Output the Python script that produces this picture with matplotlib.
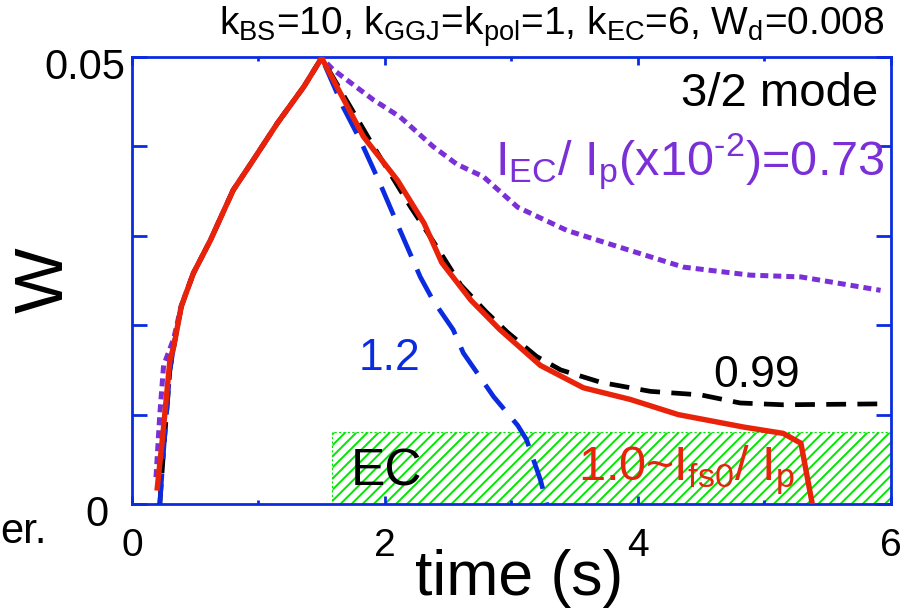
import numpy as np
import matplotlib
matplotlib.use("Agg")
import matplotlib.pyplot as plt
from matplotlib.transforms import offset_copy

plt.rcParams['font.family'] = ['Liberation Sans', 'DejaVu Sans']
plt.rcParams['mathtext.fontset'] = 'custom'
plt.rcParams['mathtext.rm'] = 'Liberation Sans'
plt.rcParams['mathtext.it'] = 'Liberation Sans:italic'
plt.rcParams['hatch.color'] = '#00e600'
plt.rcParams['hatch.linewidth'] = 1.4

# Island width W vs time for the 3/2 mode
t_ec073 = [0.19, 0.22, 0.25, 0.33, 0.39, 0.485, 0.62, 0.80, 0.96, 1.15, 1.36, 1.50,
           1.59, 1.91, 2.12, 2.38, 2.57, 2.78, 3.05, 3.44, 3.84, 4.36, 4.89, 5.29, 5.92]
w_ec073 = [0.0030, 0.0100, 0.0155, 0.0185, 0.0222, 0.0258, 0.0295, 0.0351, 0.0385,
           0.0426, 0.0467, 0.0499, 0.0486, 0.0452, 0.0433, 0.0400, 0.0380, 0.0366,
           0.0332, 0.0306, 0.0288, 0.0265, 0.0256, 0.0254, 0.0239]

t_ec099 = [0.22, 0.25, 0.30, 0.33, 0.39, 0.485, 0.62, 0.80, 0.96, 1.15, 1.36, 1.50,
           1.91, 2.20, 2.40, 2.60, 2.80, 2.97, 3.20, 3.39, 3.71, 4.10, 4.50, 4.81,
           5.15, 5.92]
w_ec099 = [0.0, 0.0060, 0.0150, 0.0176, 0.0221, 0.0258, 0.0295, 0.0351, 0.0385,
           0.0426, 0.0467, 0.0499, 0.0400, 0.0333, 0.0290, 0.0245, 0.0215, 0.0192,
           0.0165, 0.0150, 0.0136, 0.0126, 0.0122, 0.0113, 0.0111, 0.0112]

t_ec12 = [0.22, 0.25, 0.30, 0.33, 0.39, 0.485, 0.62, 0.80, 0.96, 1.15, 1.36, 1.50,
          1.67, 1.805, 1.96, 2.12, 2.28, 2.38, 2.54, 2.62, 2.86, 3.05, 3.12, 3.23, 3.28]
w_ec12 = [0.0, 0.0060, 0.0150, 0.0176, 0.0221, 0.0258, 0.0295, 0.0351, 0.0385,
          0.0426, 0.0467, 0.0499, 0.0444, 0.0407, 0.0359, 0.0306, 0.0254, 0.0228,
          0.0195, 0.0169, 0.0120, 0.0088, 0.0072, 0.0027, 0.0]

t_ec10 = [0.20, 0.245, 0.30, 0.33, 0.39, 0.485, 0.62, 0.80, 0.96, 1.15, 1.36, 1.50,
          1.83, 2.10, 2.31, 2.45, 2.68, 2.91, 3.23, 3.57, 3.94, 4.32, 4.84, 5.15,
          5.29, 5.38]
w_ec10 = [0.0018, 0.0079, 0.0161, 0.0176, 0.0221, 0.0258, 0.0295, 0.0351, 0.0385,
          0.0426, 0.0467, 0.0499, 0.0411, 0.0362, 0.0314, 0.0270, 0.0228, 0.0195,
          0.0155, 0.0130, 0.0117, 0.0100, 0.0086, 0.0079, 0.0068, 0.0]

# EC window and threshold width
ec_on, ec_off = 1.58, 6.0
w_d = 0.008

blue = '#0b2be0'
purple = '#7b2fd6'
red = '#e8230a'

fig = plt.figure(figsize=(9.14, 6.09), dpi=100)
ax = fig.add_axes([0.1444, 0.1724, 0.8301, 0.734])

ax.fill_between([ec_on, ec_off], 0, w_d, facecolor='white', edgecolor='#00e600',
                hatch='///', linewidth=0.8, linestyle=(0, (2, 2)), zorder=1)

ax.plot(t_ec073, w_ec073, color=purple, lw=3.6, linestyle=(0, (1.6, 1.0)), zorder=3)
ax.plot(t_ec099, w_ec099, color='black', lw=3.4, linestyle=(0, (4.2, 2.4)), zorder=3)
ax.plot(t_ec12, w_ec12, color=blue, lw=3.4, linestyle=(0, (6.5, 3.0)), zorder=3)
ax.plot(t_ec10, w_ec10, color=red, lw=3.9, zorder=4)

ax.set_xlim(0, 6)
ax.set_ylim(0, 0.05)
for s in ax.spines.values():
    s.set_color(blue)
    s.set_linewidth(2.0)

ax.set_xticks([0, 2, 4, 6])
ax.set_xticks([1, 3, 5], minor=True)
ax.set_yticks([0, 0.01, 0.02, 0.03, 0.04, 0.05],
              labels=['0', '', '', '', '', '0.05'])
ax.tick_params(axis='x', which='major', direction='in', top=True, length=6,
               width=2, color=blue, labelsize=28, pad=17)
ax.tick_params(axis='x', which='minor', direction='in', top=True, length=3,
               width=2, color=blue)
ax.tick_params(axis='y', direction='in', right=True, length=11, width=2,
               color=blue, labelsize=30, pad=5)

# y tick labels sit a little low; the zero one further left
for lbl in ax.get_yticklabels():
    dx = -17 if lbl.get_text() == '0' else 0
    lbl.set_transform(offset_copy(lbl.get_transform(), fig=fig, x=dx, y=-6,
                                  units='dots'))

ax.set_xlabel('time (s)', fontsize=45)
ax.xaxis.set_label_coords(0.51, -0.2036)
ax.xaxis.label.set_va('baseline')
ax.set_ylabel('W', fontsize=50)
ax.yaxis.set_label_coords(-0.115, 0.50)
ax.yaxis.label.set_va('center')

fig.text(0.968, 0.9425,
         r'k$_{\rm BS}$=10, k$_{\rm GGJ}$=k$_{\rm pol}$=1, k$_{\rm EC}$=6, W$_{\rm d}$=0.008',
         fontsize=28, ha='right', va='baseline')
fig.text(0.0, 0.108, 'er.', fontsize=30, ha='left', va='baseline')

ax.text(5.90, 0.0445, '3/2 mode', fontsize=34, ha='right', va='baseline')
ax.text(5.95, 0.0368, r'I$_{\rm EC}$/ I$_{\rm p}$(x10$^{\text{-2}}$)=0.73',
        fontsize=35, color=purple, ha='right', va='baseline')
ax.text(1.79, 0.0150, '1.2', fontsize=32, color=blue, va='baseline')
ax.text(4.60, 0.0131, '0.99', fontsize=32, color='black', va='baseline')
ax.text(1.73, 0.0021, 'EC', fontsize=37, color='black', va='baseline', zorder=5)
ax.text(3.53, 0.0027, r'1.0~I$_{\rm fs0}$/ I$_{\rm p}$', fontsize=35, color=red,
        va='baseline', zorder=5)

fig.savefig('out.png', dpi=100)
